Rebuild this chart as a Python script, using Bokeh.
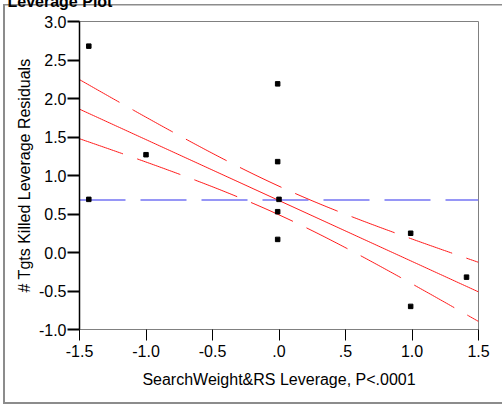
import numpy as np
from bokeh.plotting import figure
from bokeh.models import FixedTicker, Range1d, Title
from bokeh.embed import file_html
from bokeh.resources import INLINE

# ---- data ----
x_leverage = [-1.43, -1.43, -1.00, -0.01, -0.01, 0.00, -0.01, -0.01, 0.99, 0.99, 1.41]
y_leverage = [2.68, 0.69, 1.27, 2.19, 1.18, 0.69, 0.53, 0.17, 0.25, -0.70, -0.32]

x_ticks = [-1.5, -1.0, -0.5, 0.0, 0.5, 1.0, 1.5]
x_tick_labels = ["-1.5", "-1.0", "-0.5", ".0", ".5", "1.0", "1.5"]
y_ticks = [-1.0, -0.5, 0.0, 0.5, 1.0, 1.5, 2.0, 2.5, 3.0]
y_tick_labels = ["-1.0", "-0.5", "0.0", "0.5", "1.0", "1.5", "2.0", "2.5", "3.0"]

mean_y = 0.682
fit_intercept = 0.675
fit_slope = -0.791
ci_halfwidth_center = 0.186
ci_halfwidth_edge = 0.384
x_lo, x_hi = -1.5, 1.5
y_lo, y_hi = -1.0, 3.0

title_text = "Leverage Plot"
x_title = "SearchWeight&RS Leverage, P<.0001"
y_title = "# Tgts Killed Leverage Residuals"

FONT = "Liberation Sans"
W, H = 502, 405
SHIFT = 22  # canvas extends this many px above the window top (title is cut off there)

p = figure(width=W, height=H + SHIFT, x_range=Range1d(x_lo, x_hi), y_range=Range1d(y_lo, y_hi),
           output_backend="svg", toolbar_location=None,
           min_border_left=79, min_border_right=24, min_border_top=21 + SHIFT,
           min_border_bottom=76)
grey = "#8c8c8c"
p.styles = {
    "margin-top": f"-{SHIFT}px",
    "background": (
        f"linear-gradient({grey},{grey}) 3px {SHIFT + 4}px / 600px 1.5px no-repeat, "
        f"linear-gradient({grey},{grey}) 3px {SHIFT + 4}px / 2px 400px no-repeat, "
        f"linear-gradient({grey},{grey}) 3px {SHIFT + 402}px / 600px 2px no-repeat, white"
    ),
}
p.background_fill_color = "white"
p.border_fill_alpha = 0
p.grid.visible = False
p.outline_line_color = "#808080"
p.outline_line_width = 1

t = Title(text=title_text, align="left", offset=7 - 79, standoff=23,
          text_font=FONT, text_font_size="16px", text_font_style="bold", text_color="black")
p.add_layout(t, "above")

# axes
p.xaxis.ticker = FixedTicker(ticks=x_ticks)
p.xaxis.major_label_overrides = {t: l for t, l in zip(x_ticks, x_tick_labels)}
p.yaxis.ticker = FixedTicker(ticks=y_ticks)
p.yaxis.major_label_overrides = {t: l for t, l in zip(y_ticks, y_tick_labels)}
for ax in (p.xaxis[0], p.yaxis[0]):
    ax.minor_tick_line_color = None
    ax.major_tick_in = 0
    ax.major_label_text_font = FONT
    ax.major_label_text_font_size = "16px"
    ax.major_label_text_color = "black"
    ax.major_tick_line_color = "black"
    ax.axis_label_text_font = FONT
    ax.axis_label_text_font_style = "normal"
    ax.axis_label_text_color = "black"
    ax.axis_label_text_font_size = "16px"
p.xaxis.axis_line_color = "#808080"
p.xaxis.major_tick_out = 11
p.xaxis.major_label_standoff = 4
p.xaxis.axis_label = x_title
p.xaxis.axis_label_standoff = 11
p.yaxis.axis_line_color = "black"
p.yaxis.axis_line_width = 1.5
p.yaxis.major_tick_out = 12
p.yaxis.major_tick_line_width = 2
p.yaxis.major_label_standoff = 1
p.yaxis.axis_label = y_title
p.yaxis.axis_label_standoff = 3

# mean line
p.line([x_lo, x_hi], [mean_y, mean_y], line_color="#7474f4", line_width=1.6, line_dash="46 15")

# fit line and confidence curves
xs = np.linspace(x_lo, x_hi, 200)
fit = fit_intercept + fit_slope * xs
b = (ci_halfwidth_edge ** 2 - ci_halfwidth_center ** 2) / (x_hi ** 2)
hw = np.sqrt(ci_halfwidth_center ** 2 + b * xs ** 2)
p.line(xs, fit, line_color="#ff1a1a", line_width=1)
p.line(xs, fit + hw, line_color="#ff1a1a", line_width=1, line_dash="46 15")
p.line(xs, fit - hw, line_color="#ff1a1a", line_width=1, line_dash="46 15")

# points
p.scatter(x_leverage, y_leverage, marker="square", size=4.5, color="black")

open("out.html", "w").write(file_html(p, INLINE))
